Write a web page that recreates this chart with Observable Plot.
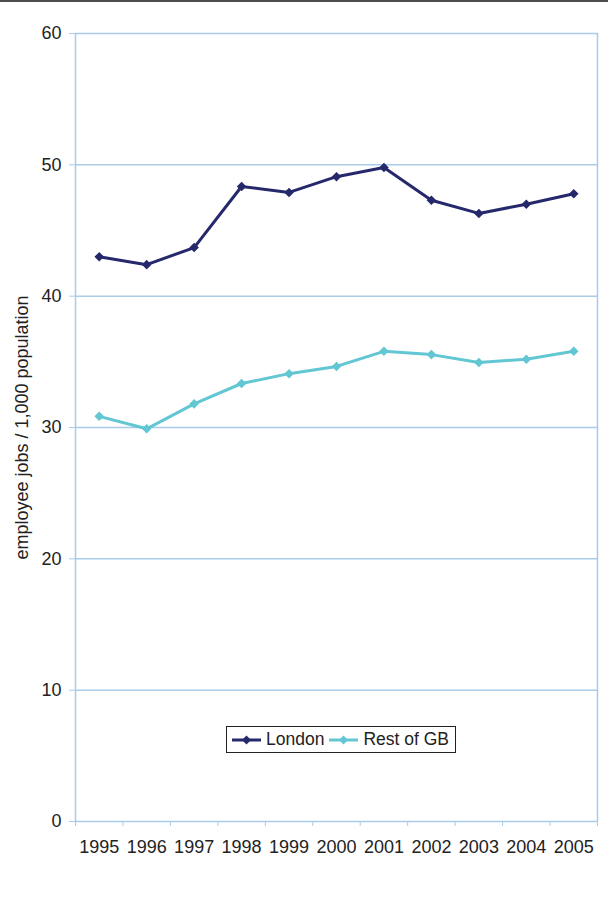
<!DOCTYPE html>
<html>
<head>
<meta charset="utf-8">
<script src="https://cdn.jsdelivr.net/npm/d3@7"></script>
<script src="https://cdn.jsdelivr.net/npm/@observablehq/plot@0.6"></script>
<style>
  body { margin: 0; background: #fff; font-family: "Liberation Sans", Arial, sans-serif; }
  #wrap { position: relative; width: 608px; height: 918px; }
  #topline { position: absolute; left: 0; top: 0; width: 608px; height: 2px; background: #4d4d4d; }
  #legend { position: absolute; left: 226px; top: 726px; width: 228px; height: 25px; border: 1px solid #222;
            display: flex; align-items: center; font-size: 17.5px; color: #222; background: #fff; }
  #legend .item { display: flex; align-items: center; margin-left: 5px; }
  #legend .item svg { margin-right: 5px; }
</style>
</head>
<body>
<div id="wrap">
  <div id="chart"></div>
  <div id="topline"></div>
  <div id="legend"></div>
</div>
<script>
const years = [1995, 1996, 1997, 1998, 1999, 2000, 2001, 2002, 2003, 2004, 2005];
const london = [43.0, 42.4, 43.7, 48.35, 47.9, 49.1, 49.8, 47.3, 46.3, 47.0, 47.8];
const restOfGB = [30.85, 29.9, 31.8, 33.35, 34.1, 34.65, 35.8, 35.55, 34.95, 35.2, 35.8];
const seriesNames = ["London", "Rest of GB"];
const seriesColors = ["#25286b", "#62c6d3"];
const yTicks = [0, 10, 20, 30, 40, 50, 60];
const yTitle = "employee jobs / 1,000 population";

const gridColor = "#a9cce9";
const textColor = "#222";

const rows = [];
years.forEach((yr, i) => {
  rows.push({ year: yr, value: london[i], series: seriesNames[0] });
  rows.push({ year: yr, value: restOfGB[i], series: seriesNames[1] });
});
const boundaries = [...years.map(y => y - 0.5), years[years.length - 1] + 0.5];

const chart = Plot.plot({
  width: 608,
  height: 918,
  marginLeft: 75,
  marginRight: 11,
  marginTop: 33,
  marginBottom: 97,
  style: { fontFamily: "'Liberation Sans', Arial, sans-serif", fontSize: "18px", background: "transparent" },
  x: { type: "linear", domain: [boundaries[0], boundaries[boundaries.length - 1]], label: null },
  y: { domain: [0, 60], label: null },
  color: { domain: seriesNames, range: seriesColors },
  marks: [
    Plot.gridY(yTicks, { stroke: gridColor, strokeOpacity: 1, strokeWidth: 1.5 }),
    Plot.ruleX([boundaries[0], boundaries[boundaries.length - 1]], { stroke: gridColor, strokeWidth: 1.5 }),
    Plot.axisY(yTicks, { tickSize: 6, color: gridColor, tickFormat: () => "" }),
    Plot.axisY(yTicks, { tickSize: 0, tickPadding: 14, color: textColor, fontSize: 18, tickFormat: d => String(d) }),
    Plot.axisX(boundaries, { tickSize: 5, color: gridColor, tickFormat: () => "" }),
    Plot.axisX(years, { tickSize: 0, tickPadding: 19, color: textColor, fontSize: 18, tickFormat: d => String(d) }),
    Plot.text([yTitle], { frameAnchor: "left", textAnchor: "middle", dx: -53, rotate: -90, fontSize: 18, fill: textColor }),
    Plot.line(rows, { x: "year", y: "value", z: "series", stroke: "series", strokeWidth: 3 }),
    Plot.dot(rows, { x: "year", y: "value", fill: "series", symbol: "diamond2", r: 4.3 })
  ]
});
document.getElementById("chart").appendChild(chart);

const legend = document.getElementById("legend");
seriesNames.forEach((name, i) => {
  const item = document.createElement("div");
  item.className = "item";
  item.innerHTML = `<svg width="29" height="12"><line x1="0" x2="29" y1="6" y2="6" stroke="${seriesColors[i]}" stroke-width="3"/>` +
    `<path d="M14.5,1.5L19,6L14.5,10.5L10,6Z" fill="${seriesColors[i]}"/></svg><span>${name}</span>`;
  legend.appendChild(item);
});
</script>
</body>
</html>
